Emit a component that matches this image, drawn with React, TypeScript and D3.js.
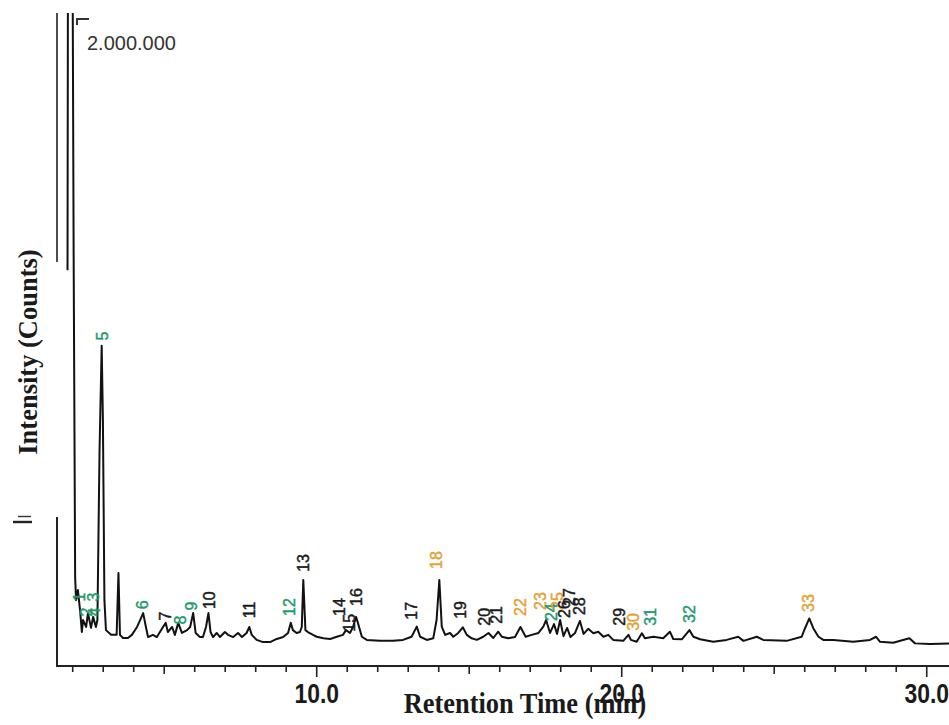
import React from 'react';
import * as d3 from 'd3';

// ---- Chromatogram trace (retention time in min, intensity in counts) ----
const retentionTimes = [
  1.83, 1.85, 1.98, 2.03, 2.08,
  2.11, 2.17, 2.24, 2.30, 2.34, 2.44, 2.50, 2.60, 2.67, 2.76,
  2.81, 2.88, 2.95, 2.99, 3.04, 3.09, 3.26, 3.44, 3.50, 3.55, 3.65, 3.81, 3.94,
  4.11, 4.21, 4.31, 4.40, 4.47, 4.63, 4.76, 4.86, 4.96, 5.05, 5.12, 5.26, 5.35,
  5.46, 5.58, 5.75, 5.85, 5.95, 6.03, 6.17, 6.27, 6.37, 6.45, 6.52, 6.60, 6.72,
  6.83, 6.99, 7.09, 7.26, 7.42, 7.55, 7.70, 7.79, 7.87, 8.03, 8.24, 8.47, 8.69,
  8.90, 9.06, 9.15, 9.22, 9.34, 9.45, 9.51, 9.56, 9.63, 9.71, 9.88, 10.00, 10.22,
  10.44, 10.66, 10.86, 10.96, 11.09, 11.19, 11.29, 11.35, 11.48, 11.64, 12.08,
  12.50, 12.83, 13.11, 13.28, 13.39, 13.61, 13.82, 13.93, 14.02, 14.10, 14.21,
  14.37, 14.48, 14.64, 14.79, 14.92, 15.08, 15.25, 15.46, 15.63, 15.79, 15.95,
  16.07, 16.28, 16.50, 16.68, 16.85, 17.05, 17.27, 17.43, 17.52, 17.65, 17.78,
  17.88, 17.98, 18.09, 18.21, 18.32, 18.47, 18.63, 18.75, 18.90, 19.07, 19.23,
  19.40, 19.56, 19.72, 20.05, 20.22, 20.30, 20.49, 20.66, 20.76, 21.04, 21.36,
  21.58, 21.69, 21.97, 22.22, 22.35, 22.57, 23.00, 23.44, 23.82, 23.99, 24.43,
  24.64, 25.41, 25.90, 26.01, 26.15, 26.28, 26.45, 26.61, 26.94, 27.59, 28.14,
  28.34, 28.47, 28.90, 29.43, 29.62, 30.11, 30.73,
];

const intensityCounts = [
  1204000, 2600000, 2600000, 1268000, 231000,
  158000, 190000, 127000, 57000, 95000, 73000, 117000, 70000, 105000, 73000,
  95000, 634000, 964000, 729000, 158000, 63000, 48000, 48000, 244000, 48000, 38000, 38000, 48000,
  73000, 95000, 117000, 73000, 41000, 48000, 41000, 57000, 73000, 86000, 57000, 73000, 48000,
  86000, 54000, 63000, 73000, 117000, 54000, 41000, 41000, 73000, 117000, 57000, 41000, 54000,
  41000, 57000, 48000, 41000, 54000, 41000, 54000, 73000, 48000, 32000, 25000, 25000, 35000,
  41000, 54000, 86000, 63000, 54000, 57000, 73000, 222000, 63000, 57000, 48000, 42000, 37000,
  35000, 42000, 48000, 63000, 54000, 73000, 105000, 86000, 42000, 32000, 29000,
  29000, 32000, 42000, 74000, 42000, 32000, 37000, 95000, 222000, 74000, 48000,
  54000, 42000, 54000, 72000, 48000, 37000, 32000, 42000, 54000, 38000, 58000,
  42000, 37000, 41000, 73000, 42000, 48000, 54000, 74000, 95000, 54000, 82000,
  51000, 95000, 44000, 70000, 41000, 54000, 92000, 51000, 67000, 53000, 58000,
  42000, 48000, 32000, 29000, 48000, 32000, 26000, 53000, 37000, 42000, 37000,
  58000, 35000, 34000, 63000, 42000, 34000, 26000, 32000, 42000, 29000, 42000,
  32000, 29000, 42000, 69000, 100000, 69000, 42000, 32000, 32000, 26000, 32000,
  42000, 26000, 23000, 37000, 21000, 19000, 21000,
];

// ---- Peak annotations ----
const peakIds = [
  '1', '2', '3', '4', '5', '6', '7', '8', '9', '10', '11', '12', '13', '14', '15', '16', '17',
  '18', '19', '20', '21', '22', '23', '24', '25', '26', '27', '28', '29', '30', '31', '32', '33',
];
const peakTimes = [
  2.21, 2.44, 2.67, 2.73, 2.98, 4.30, 5.03, 5.55, 5.88, 6.47, 7.78, 9.12, 9.58, 10.76, 11.06,
  11.32, 13.12, 13.94, 14.73, 15.49, 15.91, 16.67, 17.35, 17.71, 17.91, 18.11, 18.30, 18.63,
  19.94, 20.40, 20.93, 22.21, 26.11,
];
const peakLabelCounts = [
  168000, 120000, 168000, 120000, 995000, 143000, 108000, 95000, 139000, 158000, 127000,
  136000, 276000, 136000, 86000, 168000, 124000, 285000, 127000, 105000, 111000, 136000,
  155000, 120000, 155000, 130000, 168000, 139000, 105000, 89000, 105000, 114000, 149000,
];
const peakClasses = [
  'g', 'g', 'g', 'g', 'g', 'g', 'k', 'g', 'g', 'k', 'k', 'g', 'k', 'k', 'k', 'k', 'k',
  'o', 'k', 'k', 'k', 'o', 'o', 'g', 'o', 'k', 'k', 'k', 'k', 'o', 'g', 'g', 'o',
];

// ---- Axes ----
const timeDomain = [1.485, 30.73];
const majorTickValues = [10, 20, 30];
const majorTickLabels = ['10.0', '20.0', '30.0'];
const minorTickValues = d3.range(2, 31, 1);
const scaleBarValue = 2000000;
const scaleBarLabel = '2.000.000';
const xTitle = 'Retention Time (min)';
const yTitle = 'Intensity (Counts)';

const classColor: Record<string, string> = { g: '#1f9a6c', o: '#e3a236', k: '#1a1a1a' };

export default function App() {
  const W = 949;
  const H = 725;
  const x = d3.scaleLinear().domain(timeDomain).range([57, 949]);
  const y = d3.scaleLinear().domain([0, 2000000]).range([650, 19]);
  const axisY = 666;

  const pts: [number, number][] = retentionTimes.map((t, i) => [t, intensityCounts[i]]);
  const line = d3
    .line<[number, number]>()
    .x((d) => x(d[0]))
    .y((d) => y(d[1]));

  const sans = "'Liberation Sans', Arial, Helvetica, sans-serif";
  const serif = "'Liberation Serif', 'Times New Roman', serif";

  const topY = y(scaleBarValue);

  return (
    <svg
      width={W}
      height={H}
      style={{ position: 'absolute', left: 0, top: 0, background: '#ffffff' }}
    >
      <defs>
        <clipPath id="plotClip">
          <rect x={57} y={13} width={W - 57} height={axisY - 13} />
        </clipPath>
      </defs>

      {/* axes */}
      <line x1={57} y1={13} x2={57} y2={262} stroke="#222" strokeWidth={1.6} />
      <line x1={57} y1={517} x2={57} y2={axisY} stroke="#222" strokeWidth={2} />
      <line x1={56} y1={axisY} x2={W} y2={axisY} stroke="#222" strokeWidth={2} />
      {/* broken axis mark */}
      <line x1={18} y1={516.5} x2={31} y2={516.5} stroke="#333" strokeWidth={1.4} />
      <line x1={13} y1={522} x2={32} y2={522} stroke="#222" strokeWidth={2.4} />

      {minorTickValues.map((t) => {
        const len = t % 10 === 0 ? 11 : t % 5 === 0 ? 8 : 6;
        return (
          <line
            key={'t' + t}
            x1={x(t)}
            x2={x(t)}
            y1={axisY}
            y2={axisY + len}
            stroke="#222"
            strokeWidth={1.6}
          />
        );
      })}
      {majorTickValues.map((t, i) => (
        <text
          key={'l' + t}
          transform={`translate(${x(t)},${703}) scale(0.85,1)`}
          textAnchor="middle"
          fontFamily={sans}
          fontWeight="bold"
          fontSize={27}
          fill="#1a1a1a"
        >
          {majorTickLabels[i]}
        </text>
      ))}

      <text
        transform={`translate(525,713) scale(0.88,1)`}
        textAnchor="middle"
        fontFamily={serif}
        fontWeight="bold"
        fontSize={30}
        fill="#1a1a1a"
      >
        {xTitle}
      </text>
      <text
        transform={`translate(37,352) rotate(-90)`}
        textAnchor="middle"
        fontFamily={serif}
        fontWeight="bold"
        fontSize={26.5}
        fill="#1a1a1a"
      >
        {yTitle}
      </text>

      {/* scale bar */}
      <path
        d={`M${77},${topY + 6} L${77},${topY} L${89},${topY}`}
        fill="none"
        stroke="#333"
        strokeWidth={2}
      />
      <text x={87} y={50} fontFamily={sans} fontSize={20} fill="#333">
        {scaleBarLabel}
      </text>

      {/* trace */}
      <g clipPath="url(#plotClip)">
        <path
          d={line(pts) || ''}
          fill="none"
          stroke="#111"
          strokeWidth={2}
          strokeLinejoin="round"
        />
      </g>

      {/* peak labels */}
      {peakIds.map((id, i) => (
        <text
          key={'p' + id}
          transform={`translate(${x(peakTimes[i])},${y(peakLabelCounts[i])}) rotate(-90)`}
          textAnchor="middle"
          dominantBaseline="central"
          fontFamily={sans}
          fontSize={16}
          fill={classColor[peakClasses[i]]}
          stroke={classColor[peakClasses[i]]}
          strokeWidth={0.45}
        >
          {id}
        </text>
      ))}
    </svg>
  );
}
